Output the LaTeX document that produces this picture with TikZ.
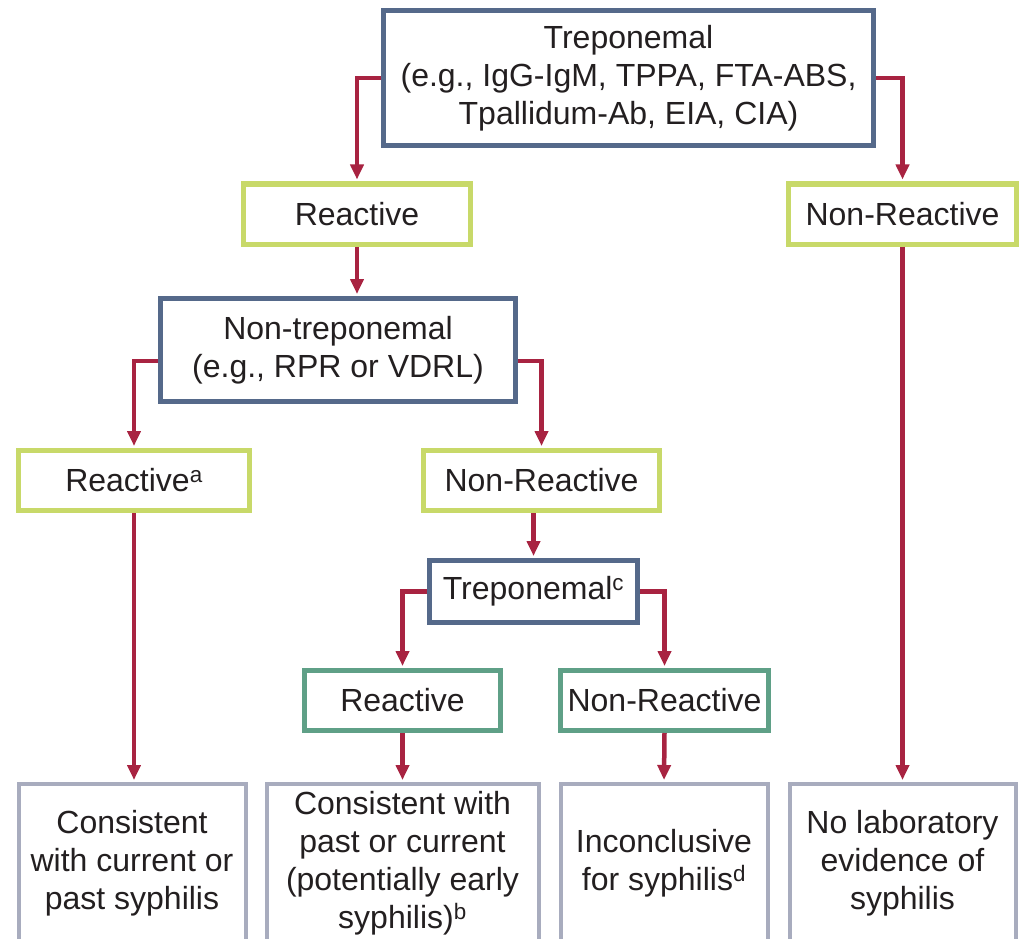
\documentclass[tikz,border=0pt]{standalone}
\usepackage{fontspec}
\setmainfont{Liberation Sans}
\usepackage{tikz}
\usetikzlibrary{arrows.meta,positioning,calc}
\usepackage{xcolor}
\definecolor{testblue}{RGB}{85,105,138}
\definecolor{limegreen}{RGB}{200,217,105}
\definecolor{tealgreen}{RGB}{95,160,135}
\definecolor{resgray}{RGB}{168,172,190}
\definecolor{linkred}{RGB}{168,35,65}
\definecolor{inkdark}{RGB}{35,31,32}

\begin{document}
\begin{tikzpicture}[x=1pt, y=-1pt,
  every node/.style={font=\fontsize{32}{38}\selectfont, text=inkdark, inner sep=0pt, align=center},
  testbox/.style={draw=testblue, line width=5pt, fill=white},
  firstres/.style={draw=limegreen, line width=5pt, fill=white, minimum height=60pt},
  secondres/.style={draw=tealgreen, line width=5pt, fill=white, minimum height=60pt},
  outcome/.style={draw=resgray, line width=4pt, fill=white, minimum height=158pt},
  link/.style={draw=linkred, line width=4.5pt, -{Triangle[width=13pt,length=15pt]}, shorten >=2pt}]
  \useasboundingbox (0,0) rectangle (1023,939);
  \clip (0,0) rectangle (1023,939);
  % tests
  \node[testbox, minimum width=490pt, minimum height=135pt] (trep) at (628.5,78)
    {Treponemal\\(e.g., IgG-IgM, TPPA, FTA-ABS,\\Tpallidum-Ab, EIA, CIA)};
  \node[testbox, minimum width=355pt, minimum height=103pt] (nontrep) at (338,350)
    {Non-treponemal\\(e.g., RPR or VDRL)};
  \node[testbox, minimum width=208pt, minimum height=62pt] (trepc) at (533.5,591.5)
    {Treponemal\textsuperscript{c}};
  % results
  \node[firstres, minimum width=227pt] (react) at (357,214) {Reactive};
  \node[firstres, minimum width=228pt] (nonreact) at (902.5,214) {Non-Reactive};
  \node[firstres, minimum width=231pt] (reacta) at (134,480.5) {Reactive\textsuperscript{a}};
  \node[firstres, minimum width=236pt] (nonreactb) at (541.5,480.5) {Non-Reactive};
  \node[secondres, minimum width=196pt] (reactc) at (402.5,700.5) {Reactive};
  \node[secondres, minimum width=208pt] (nonreactc) at (664.5,700.5) {Non-Reactive};
  % outcomes
  \node[outcome, minimum width=227pt] (current) at (132,863)
    {Consistent\\with current or\\past syphilis};
  \node[outcome, minimum width=272pt] (early) at (402.5,863)
    {Consistent with\\past or current\\(potentially early\\syphilis)\textsuperscript{b}};
  \node[outcome, minimum width=207pt] (inconcl) at (664,863)
    {Inconclusive\\for syphilis\textsuperscript{d}};
  \node[outcome, minimum width=226pt] (noevid) at (902.5,863)
    {No laboratory\\evidence of\\syphilis};
  % connectors
  \draw[link] (trep.west) -| (react.north);
  \draw[link] (trep.east) -| (nonreact.north);
  \draw[link] (react.south) -- (react.south |- nontrep.north);
  \draw[link] ([yshift=-11pt]nontrep.west) -| (reacta.north);
  \draw[link] ([yshift=-11pt]nontrep.east) -| (nonreactb.north);
  \draw[link] (trepc.north |- nonreactb.south) -- (trepc.north);
  \draw[link] (trepc.west) -| (reactc.north);
  \draw[link] (trepc.east) -| (nonreactc.north);
  \draw[link] (reacta.south) -- (reacta.south |- current.north);
  \draw[link] (reactc.south) -- (early.north);
  \draw[link] (nonreactc.south) -- (inconcl.north);
  \draw[link] (nonreact.south) -- (noevid.north);
\end{tikzpicture}
\end{document}
